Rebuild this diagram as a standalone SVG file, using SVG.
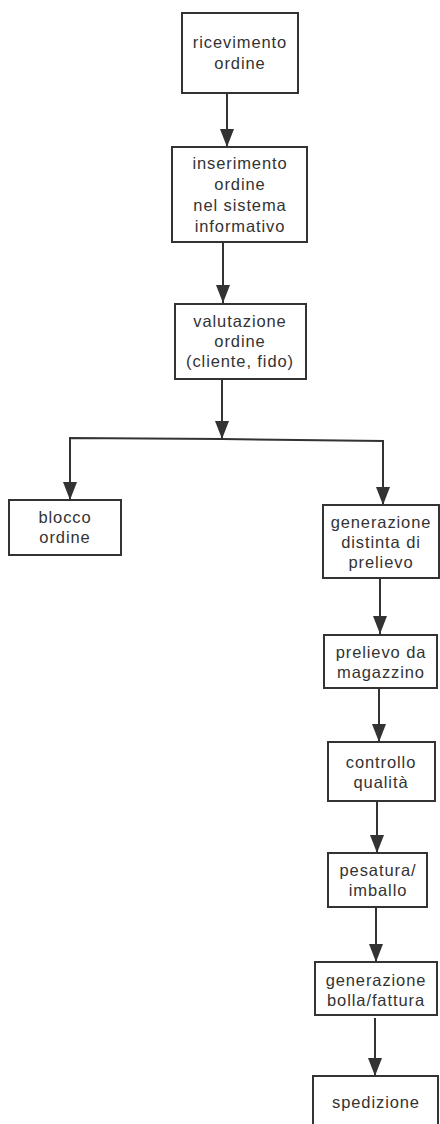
<svg xmlns="http://www.w3.org/2000/svg" width="440" height="1124" viewBox="0 0 440 1124">
<defs>
<marker id="ah" markerUnits="userSpaceOnUse" markerWidth="18" markerHeight="14" viewBox="0 0 18 14" refX="18" refY="7" orient="auto">
<path d="M0,0 L18,7 L0,14 Z" fill="#333"/>
</marker>
</defs>
<style>
.box{fill:#fff;stroke:#333;stroke-width:2}
.t{font-family:"Liberation Sans",Arial,sans-serif;font-size:16.5px;letter-spacing:0.9px;fill:#333;text-anchor:middle;dominant-baseline:central}
.c{fill:none;stroke:#333;stroke-width:2}
.a{marker-end:url(#ah)}
</style>
<rect width="440" height="1124" fill="#fff"/>
<g id="connectors">
<line class="c a" x1="227" y1="93" x2="227" y2="147"/>
<line class="c a" x1="223" y1="242" x2="223" y2="303"/>
<line class="c a" x1="222" y1="379" x2="222" y2="439"/>
<polyline class="c a" points="222,439 70,438 70,500"/>
<polyline class="c a" points="222,439 383,441 383,505"/>
<line class="c a" x1="380" y1="578" x2="380" y2="634"/>
<line class="c a" x1="379" y1="688" x2="379" y2="742"/>
<line class="c a" x1="377" y1="801" x2="377" y2="853"/>
<line class="c a" x1="376" y1="907" x2="376" y2="962"/>
<line class="c a" x1="375" y1="1018" x2="375" y2="1076"/>
</g>
<g id="n1"><rect class="box" x="182" y="13" width="116" height="80"/>
<text class="t" x="240" y="42">ricevimento</text><text class="t" x="240" y="63">ordine</text></g>
<g id="n2"><rect class="box" x="172" y="147" width="135" height="95"/>
<text class="t" x="240" y="163">inserimento</text><text class="t" x="240" y="184">ordine</text><text class="t" x="240" y="205">nel sistema</text><text class="t" x="240" y="226">informativo</text></g>
<g id="n3"><rect class="box" x="175" y="304" width="131" height="75"/>
<text class="t" x="240" y="321">valutazione</text><text class="t" x="240" y="341">ordine</text><text class="t" x="240" y="361">(cliente,  fido)</text></g>
<g id="n4"><rect class="box" x="9" y="500" width="112" height="55"/>
<text class="t" x="65" y="517">blocco</text><text class="t" x="65" y="537">ordine</text></g>
<g id="n5"><rect class="box" x="323" y="505" width="116" height="73"/>
<text class="t" x="381" y="522">generazione</text><text class="t" x="381" y="542">distinta  di</text><text class="t" x="381" y="562">prelievo</text></g>
<g id="n6"><rect class="box" x="324" y="635" width="113" height="53"/>
<text class="t" x="381" y="652">prelievo  da</text><text class="t" x="381" y="672">magazzino</text></g>
<g id="n7"><rect class="box" x="328" y="742" width="107" height="59"/>
<text class="t" x="381" y="762">controllo</text><text class="t" x="381" y="782">qualità</text></g>
<g id="n8"><rect class="box" x="328" y="853" width="99" height="54"/>
<text class="t" x="378" y="870">pesatura/</text><text class="t" x="378" y="890">imballo</text></g>
<g id="n9"><rect class="box" x="315" y="962" width="122" height="53"/>
<text class="t" x="376" y="980">generazione</text><text class="t" x="376" y="1000">bolla/fattura</text></g>
<g id="n10"><rect class="box" x="313" y="1076" width="125" height="60"/>
<text class="t" x="376" y="1102">spedizione</text></g>
</svg>
